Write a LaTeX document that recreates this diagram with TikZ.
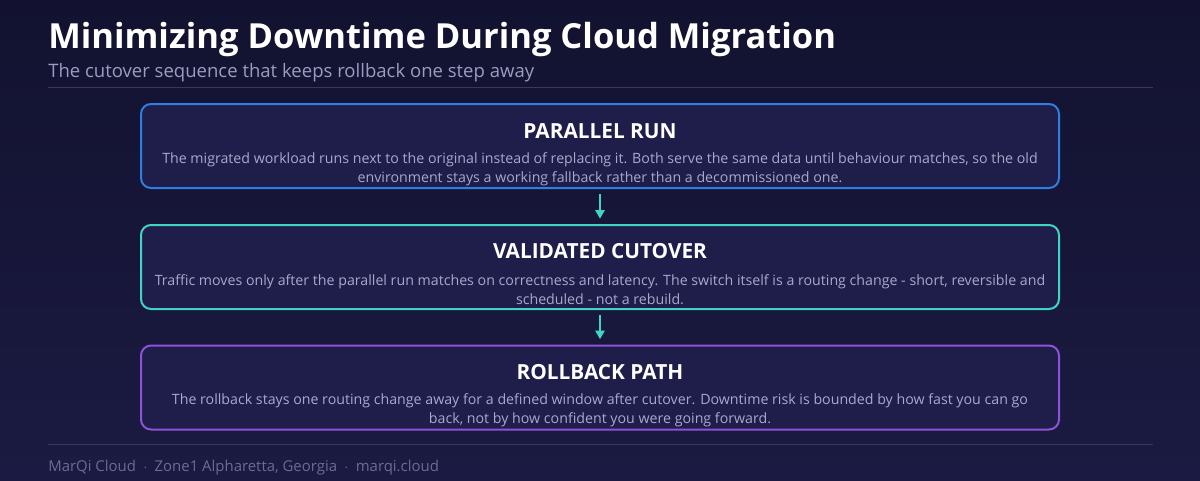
\documentclass[tikz,border=0pt]{standalone}
\usepackage{fontspec}
\setmainfont{Open Sans}
\usepackage{xcolor}
\usetikzlibrary{arrows.meta}
\usetikzlibrary{positioning}

\definecolor{bgtop}{HTML}{121230}
\definecolor{bgbot}{HTML}{1B1A42}
\definecolor{boxfill}{HTML}{1F1D4A}
\definecolor{runblue}{HTML}{2D7FE0}
\definecolor{cutteal}{HTML}{40D4C4}
\definecolor{backpurple}{HTML}{8C52D8}
\definecolor{bodygray}{HTML}{A9A8CC}
\definecolor{subgray}{HTML}{9C9BC2}
\definecolor{footgray}{HTML}{6C6B92}
\definecolor{rulegray}{HTML}{38385E}

\tikzset{
    stepbox/.style={rectangle, rounded corners=7.5pt, line width=1.5pt, fill=boxfill,
        minimum width=688.5pt, minimum height=63pt, inner sep=0pt},
    stephead/.style={text=white, font=\fontsize{15.6}{18}\selectfont\bfseries, inner sep=0pt},
    stepbody/.style={text=bodygray, font=\fontsize{10.65}{14.25}\selectfont, align=center, inner sep=0pt},
    flow/.style={draw=cutteal, line width=1.5pt, -{Triangle[length=6.5pt,width=7pt]},
        shorten <=4pt, shorten >=4pt}
}
\newcommand{\footsep}{\hspace{5.5pt}$\cdot$\hspace{5.5pt}}

\begin{document}
\begin{tikzpicture}[x=0.75pt,y=-0.75pt]
        \shade[top color=bgtop, bottom color=bgbot] (0,0) rectangle (1200,480);
        \useasboundingbox (0,0) rectangle (1200,480);
        % heading
        \node[anchor=base west, inner sep=0pt, text=white, font=\fontsize{25.9}{30}\selectfont\bfseries] (title) at (48,48) {Minimizing Downtime During Cloud Migration};
        \node[anchor=base west, inner sep=0pt, text=subgray, font=\fontsize{13.9}{16}\selectfont] (subtitle) at (48,77) {The cutover sequence that keeps rollback one step away};
        \draw[rulegray, line width=0.75pt] (48,87) -- (1153,87);
        % the three steps
        \node[stepbox, draw=runblue] (run) at (600,146) {};
        \node[stephead] (runhead) at (600,131) {PARALLEL RUN};
        \node[stepbody] (runtext) at (600,169.5) {The migrated workload runs next to the original instead of replacing it. Both serve the same data until behaviour matches, so the old\\environment stays a working fallback rather than a decommissioned one.};
        \node[stepbox, draw=cutteal] (cut) at (600,267) {};
        \node[stephead] (cuthead) at (600,251) {VALIDATED CUTOVER};
        \node[stepbody] (cuttext) at (600,289.5) {Traffic moves only after the parallel run matches on correctness and latency. The switch itself is a routing change - short, reversible and\\scheduled - not a rebuild.};
        \node[stepbox, draw=backpurple] (back) at (600,387.5) {};
        \node[stephead] (backhead) at (600,372) {ROLLBACK PATH};
        \node[stepbody] (backtext) at (600,410.5) {The rollback stays one routing change away for a defined window after cutover. Downtime risk is bounded by how fast you can go\\back, not by how confident you were going forward.};
        \draw[flow] (run) -- (cut);
        \draw[flow] (cut) -- (back);
        % footer
        \draw[rulegray, line width=0.75pt] (48,444) -- (1153,444);
        \node[anchor=base west, inner sep=0pt, text=footgray, font=\fontsize{11.2}{13}\selectfont] (footer) at (48,471) {MarQi Cloud\footsep Zone1 Alpharetta, Georgia\footsep marqi.cloud};
\end{tikzpicture}
\end{document}
